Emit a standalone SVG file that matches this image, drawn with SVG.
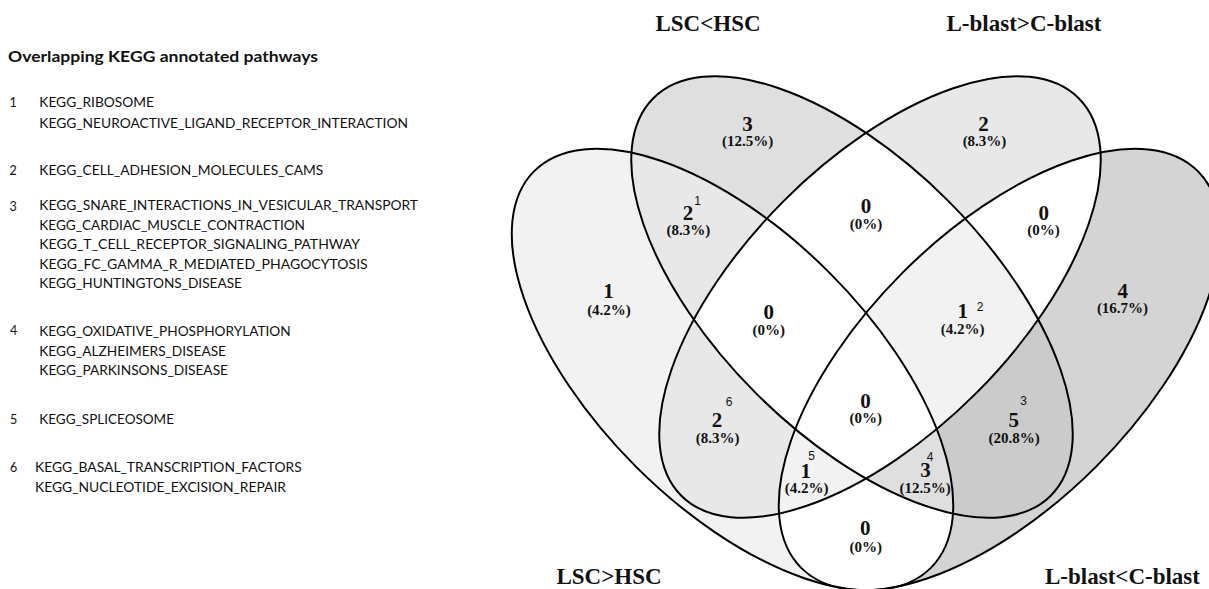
<svg xmlns="http://www.w3.org/2000/svg" xmlns:xlink="http://www.w3.org/1999/xlink" width="1209" height="589" viewBox="0 0 1209 589">
<style>
.list{font-family:Lato,"Open Sans","Liberation Sans",sans-serif;font-size:12.5px;fill:#111}
.head{font-family:Lato,"Open Sans","Liberation Sans",sans-serif;font-size:14.5px;font-weight:bold;fill:#111}
.cnt{font-family:"Liberation Serif","Times New Roman",serif;font-size:21px;font-weight:bold;fill:#111;text-anchor:middle}
.pct{font-family:"Liberation Serif","Times New Roman",serif;font-size:15px;font-weight:bold;fill:#111;text-anchor:middle}
.sup{font-family:"Liberation Sans",Arial,sans-serif;font-size:12px;fill:#111;text-anchor:middle}
.ttl{font-family:"Liberation Serif","Times New Roman",serif;font-size:23px;font-weight:bold;fill:#111;text-anchor:middle}
.outline{fill:none;stroke:#000;stroke-width:2}
</style>
<defs>
<ellipse id="eA" cx="732.5" cy="369.5" rx="280.5" ry="137" transform="rotate(45 732.5 369.5)"/>
<ellipse id="eB" cx="852" cy="297" rx="281" ry="136" transform="rotate(45 852 297)"/>
<ellipse id="eC" cx="880" cy="297" rx="281" ry="136" transform="rotate(-45 880 297)"/>
<ellipse id="eD" cx="999.5" cy="369.5" rx="280.5" ry="137" transform="rotate(-45 999.5 369.5)"/>
<clipPath id="cA"><use xlink:href="#eA"/></clipPath>
<clipPath id="cB"><use xlink:href="#eB"/></clipPath>
<clipPath id="cC"><use xlink:href="#eC"/></clipPath>
<clipPath id="cD"><use xlink:href="#eD"/></clipPath>
<mask id="nA"><rect width="1209" height="589" fill="#fff"/><use xlink:href="#eA" fill="#000"/></mask>
<mask id="nB"><rect width="1209" height="589" fill="#fff"/><use xlink:href="#eB" fill="#000"/></mask>
<mask id="nC"><rect width="1209" height="589" fill="#fff"/><use xlink:href="#eC" fill="#000"/></mask>
<mask id="nD"><rect width="1209" height="589" fill="#fff"/><use xlink:href="#eD" fill="#000"/></mask>
</defs>
<rect width="1209" height="589" fill="#fff"/>

<g id="legend">
<text class="head" x="8" y="62" textLength="310" lengthAdjust="spacingAndGlyphs">Overlapping KEGG annotated pathways</text>
<text class="list" x="9.5" y="107">1</text>
<text class="list" x="39.3" y="107" textLength="114.7" lengthAdjust="spacingAndGlyphs">KEGG_RIBOSOME</text>
<text class="list" x="39.3" y="128" textLength="368.7" lengthAdjust="spacingAndGlyphs">KEGG_NEUROACTIVE_LIGAND_RECEPTOR_INTERACTION</text>
<text class="list" x="9.5" y="175">2</text>
<text class="list" x="39.3" y="175" textLength="284" lengthAdjust="spacingAndGlyphs">KEGG_CELL_ADHESION_MOLECULES_CAMS</text>
<text class="list" x="9.5" y="211">3</text>
<text class="list" x="39.3" y="209.5" textLength="378.7" lengthAdjust="spacingAndGlyphs">KEGG_SNARE_INTERACTIONS_IN_VESICULAR_TRANSPORT</text>
<text class="list" x="39.3" y="229.5" textLength="265.7" lengthAdjust="spacingAndGlyphs">KEGG_CARDIAC_MUSCLE_CONTRACTION</text>
<text class="list" x="39.3" y="249.3" textLength="320.7" lengthAdjust="spacingAndGlyphs">KEGG_T_CELL_RECEPTOR_SIGNALING_PATHWAY</text>
<text class="list" x="39.3" y="269" textLength="328.4" lengthAdjust="spacingAndGlyphs">KEGG_FC_GAMMA_R_MEDIATED_PHAGOCYTOSIS</text>
<text class="list" x="39.3" y="288.3" textLength="202.7" lengthAdjust="spacingAndGlyphs">KEGG_HUNTINGTONS_DISEASE</text>
<text class="list" x="10" y="335">4</text>
<text class="list" x="39.3" y="335.5" textLength="251.4" lengthAdjust="spacingAndGlyphs">KEGG_OXIDATIVE_PHOSPHORYLATION</text>
<text class="list" x="39.3" y="356" textLength="186.7" lengthAdjust="spacingAndGlyphs">KEGG_ALZHEIMERS_DISEASE</text>
<text class="list" x="39.3" y="375" textLength="188.7" lengthAdjust="spacingAndGlyphs">KEGG_PARKINSONS_DISEASE</text>
<text class="list" x="10" y="424.3">5</text>
<text class="list" x="39.3" y="424.3" textLength="134.7" lengthAdjust="spacingAndGlyphs">KEGG_SPLICEOSOME</text>
<text class="list" x="10" y="471.7">6</text>
<text class="list" x="35" y="471.7" textLength="266.7" lengthAdjust="spacingAndGlyphs">KEGG_BASAL_TRANSCRIPTION_FACTORS</text>
<text class="list" x="35" y="491.7" textLength="251" lengthAdjust="spacingAndGlyphs">KEGG_NUCLEOTIDE_EXCISION_REPAIR</text>
</g>

<g id="region-fills">
<!-- A only -->
<g clip-path="url(#cA)"><g mask="url(#nB)"><g mask="url(#nC)"><rect width="1209" height="589" fill="#f2f2f2" mask="url(#nD)"/></g></g></g>
<!-- B only -->
<g clip-path="url(#cB)"><g mask="url(#nA)"><g mask="url(#nC)"><rect width="1209" height="589" fill="#dfdfdf" mask="url(#nD)"/></g></g></g>
<!-- C only -->
<g clip-path="url(#cC)"><g mask="url(#nA)"><g mask="url(#nB)"><rect width="1209" height="589" fill="#e8e8e8" mask="url(#nD)"/></g></g></g>
<!-- D only -->
<g clip-path="url(#cD)"><g mask="url(#nA)"><g mask="url(#nB)"><rect width="1209" height="589" fill="#d4d4d4" mask="url(#nC)"/></g></g></g>
<!-- A and B -->
<g clip-path="url(#cA)"><g clip-path="url(#cB)"><g mask="url(#nC)"><rect width="1209" height="589" fill="#e8e8e8" mask="url(#nD)"/></g></g></g>
<!-- A and C -->
<g clip-path="url(#cA)"><g clip-path="url(#cC)"><g mask="url(#nB)"><rect width="1209" height="589" fill="#e8e8e8" mask="url(#nD)"/></g></g></g>
<!-- B and D -->
<g clip-path="url(#cB)"><g clip-path="url(#cD)"><g mask="url(#nA)"><rect width="1209" height="589" fill="#cbcbcb" mask="url(#nC)"/></g></g></g>
<!-- B C D -->
<g clip-path="url(#cB)"><g clip-path="url(#cC)"><g clip-path="url(#cD)"><rect width="1209" height="589" fill="#f2f2f2" mask="url(#nA)"/></g></g></g>
<!-- A C D -->
<g clip-path="url(#cA)"><g clip-path="url(#cC)"><g clip-path="url(#cD)"><rect width="1209" height="589" fill="#f2f2f2" mask="url(#nB)"/></g></g></g>
<!-- A B D -->
<g clip-path="url(#cA)"><g clip-path="url(#cB)"><g clip-path="url(#cD)"><rect width="1209" height="589" fill="#dfdfdf" mask="url(#nC)"/></g></g></g>
</g>

<g id="set-A"><use xlink:href="#eA" class="outline"/><text class="ttl" x="609" y="584">LSC&gt;HSC</text></g>
<g id="set-B"><use xlink:href="#eB" class="outline"/><text class="ttl" x="708" y="31">LSC&lt;HSC</text></g>
<g id="set-C"><use xlink:href="#eC" class="outline"/><text class="ttl" x="1024" y="31">L-blast&gt;C-blast</text></g>
<g id="set-D"><use xlink:href="#eD" class="outline"/><text class="ttl" x="1122.5" y="584">L-blast&lt;C-blast</text></g>

<g id="region-labels">
<g id="r-B"><text class="cnt" x="747.5" y="130.7">3</text><text class="pct" x="747.7" y="146">(12.5%)</text></g>
<g id="r-C"><text class="cnt" x="983.5" y="130.7">2</text><text class="pct" x="984.5" y="146">(8.3%)</text></g>
<g id="r-AB"><text class="cnt" x="688" y="220">2</text><text class="sup" x="697.5" y="204.5">1</text><text class="pct" x="688.3" y="235">(8.3%)</text></g>
<g id="r-BC"><text class="cnt" x="866" y="213.3">0</text><text class="pct" x="866" y="229">(0%)</text></g>
<g id="r-CD"><text class="cnt" x="1043.8" y="220">0</text><text class="pct" x="1043.5" y="235">(0%)</text></g>
<g id="r-A"><text class="cnt" x="608.5" y="298.3">1</text><text class="pct" x="609" y="314.5">(4.2%)</text></g>
<g id="r-D"><text class="cnt" x="1122.7" y="298.3">4</text><text class="pct" x="1122.5" y="313.3">(16.7%)</text></g>
<g id="r-ABC"><text class="cnt" x="768.7" y="319.3">0</text><text class="pct" x="768.8" y="335">(0%)</text></g>
<g id="r-BCD"><text class="cnt" x="962.8" y="318.3">1</text><text class="sup" x="980" y="311">2</text><text class="pct" x="962.7" y="334">(4.2%)</text></g>
<g id="r-ABCD"><text class="cnt" x="865.5" y="408">0</text><text class="pct" x="865.8" y="422.7">(0%)</text></g>
<g id="r-AC"><text class="cnt" x="717" y="426.7">2</text><text class="sup" x="729" y="405.7">6</text><text class="pct" x="717.7" y="443">(8.3%)</text></g>
<g id="r-BD"><text class="cnt" x="1013.8" y="426.7">5</text><text class="sup" x="1023.7" y="405">3</text><text class="pct" x="1014.2" y="442.7">(20.8%)</text></g>
<g id="r-ACD"><text class="cnt" x="805.8" y="477.7">1</text><text class="sup" x="811.7" y="460">5</text><text class="pct" x="806.7" y="493.3">(4.2%)</text></g>
<g id="r-ABD"><text class="cnt" x="925.5" y="477.3">3</text><text class="sup" x="930" y="461">4</text><text class="pct" x="925.2" y="493.3">(12.5%)</text></g>
<g id="r-AD"><text class="cnt" x="865.3" y="535">0</text><text class="pct" x="865.8" y="551.7">(0%)</text></g>
</g>
</svg>
